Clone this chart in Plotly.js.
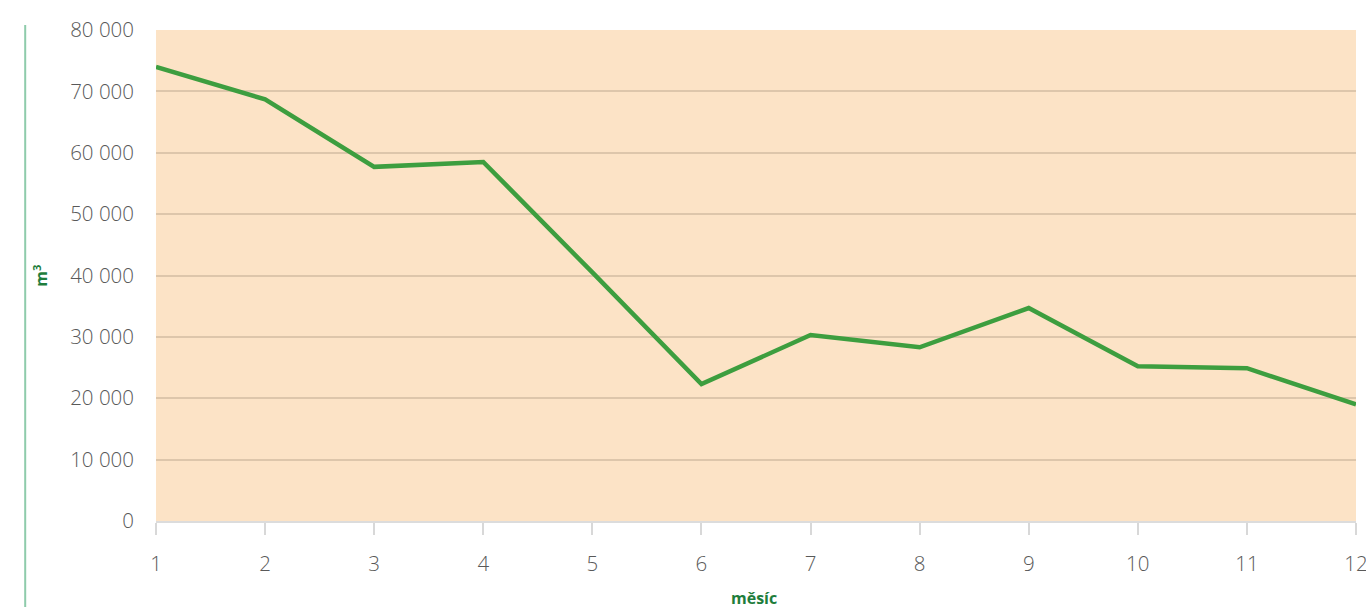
<!DOCTYPE html>
<html>
<head>
<meta charset="utf-8">
<script src="https://cdn.plot.ly/plotly-3.0.1.min.js"></script>
<style>
html,body{margin:0;padding:0;background:#fff;}
#chart{width:1366px;height:607px;}
</style>
</head>
<body>
<div id="chart"></div>
<script>
const months = [1,2,3,4,5,6,7,8,9,10,11,12];
const volumes = [74000,68700,57700,58500,40500,22300,30300,28300,34700,25200,24900,19000];
const yTicks = [0,10000,20000,30000,40000,50000,60000,70000,80000];
const xTitle = 'měsíc';
const yTitle = 'm<sup>3</sup>';

const trace = {
  x: months, y: volumes, type: 'scatter', mode: 'lines',
  line: {color: '#3d9e3f', width: 4.5},
  hoverinfo: 'skip'
};

const tickFont = {family: 'Open Sans, sans-serif', size: 20.5, color: '#595959', weight: 300};

const layout = {
  width: 1366, height: 607,
  margin: {l: 156, r: 10, t: 30, b: 86},
  paper_bgcolor: '#ffffff',
  plot_bgcolor: '#fce3c6',
  separators: ', ',
  showlegend: false,
  font: {family: 'Open Sans, sans-serif', color: '#595959', size: 17},
  xaxis: {
    range: [1, 12], tickvals: months, ticktext: months.map(String),
    showgrid: false, zeroline: false,
    showline: true, linecolor: '#dcdcdc', linewidth: 2,
    ticks: 'outside', ticklen: 12, tickwidth: 2, tickcolor: '#d8d8d8',
    ticklabelstandoff: 11, ticklabeloverflow: 'allow',
    tickfont: tickFont
  },
  yaxis: {
    range: [0, 80000], tickvals: yTicks,
    tickformat: ',d',
    showgrid: true, gridcolor: '#ddc6ab', gridwidth: 2,
    zeroline: false, showline: false,
    ticks: '', ticklabelstandoff: 21, ticklabeloverflow: 'allow',
    tickfont: tickFont
  },
  shapes: [{
    type: 'line', xref: 'paper', yref: 'paper',
    x0: -0.109, x1: -0.109, y0: 1.01, y1: -0.2,
    line: {color: '#8ecbab', width: 2}
  }],
  annotations: [
    {text: xTitle, xref: 'paper', yref: 'paper', x: 0.498, y: -0.157,
     xanchor: 'center', yanchor: 'middle', showarrow: false,
     font: {family: 'Open Sans, sans-serif', size: 16, color: '#1e7d3c', weight: 700}},
    {text: yTitle, xref: 'paper', yref: 'paper', x: -0.0965, y: 0.5,
     xanchor: 'center', yanchor: 'middle', showarrow: false, textangle: -90,
     font: {family: 'Open Sans, sans-serif', size: 16, color: '#1e7d3c', weight: 700}}
  ]
};

Plotly.newPlot('chart', [trace], layout, {displayModeBar: false, staticPlot: true});
</script>
</body>
</html>
